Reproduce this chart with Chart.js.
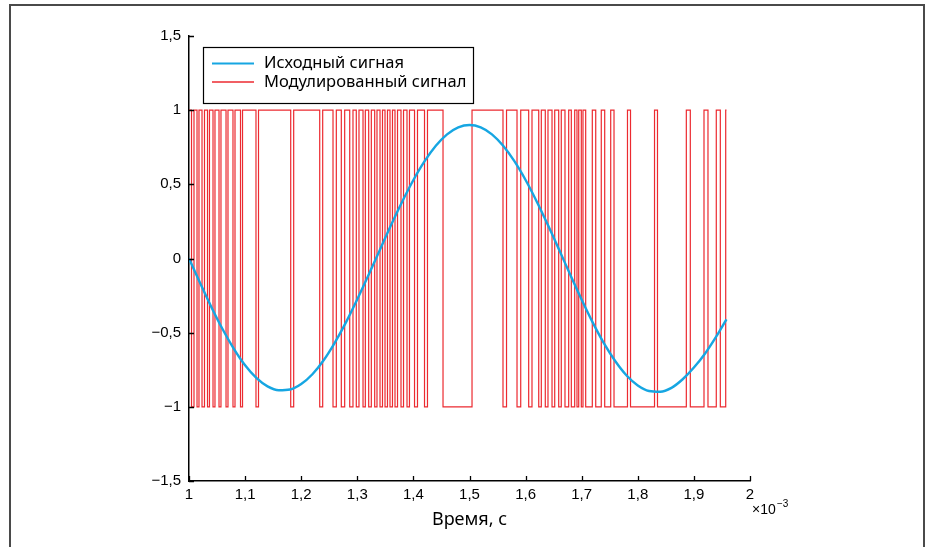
<!DOCTYPE html>
<html>
<head>
<meta charset="utf-8">
<script src="https://cdn.jsdelivr.net/npm/chart.js@4/dist/chart.umd.min.js"></script>
<style>
  body { margin: 0; background: #fff; }
  #wrap { position: relative; width: 934px; height: 547px; overflow: hidden; }
  #frame { position: absolute; left: 9px; top: 4px; width: 916px; height: 600px; border: 2px solid #4a4a4a; box-sizing: border-box; pointer-events: none; }
  canvas { position: absolute; left: 0; top: 0; }
</style>
</head>
<body>
<div id="wrap">
  <canvas id="myChart" width="934" height="547"></canvas>
  <div id="frame"></div>
</div>
<script>
// время (в единицах 10^-3 с) и значения исходного сигнала
var sineTime = [1.00, 1.02, 1.04, 1.06, 1.08, 1.10, 1.12, 1.14, 1.16, 1.18,
                1.20, 1.22, 1.24, 1.26, 1.28, 1.30, 1.32, 1.34, 1.36, 1.38,
                1.40, 1.42, 1.44, 1.46, 1.48, 1.50, 1.52, 1.54, 1.56, 1.58,
                1.60, 1.62, 1.64, 1.66, 1.68, 1.70, 1.72, 1.74, 1.76, 1.78,
                1.80, 1.82, 1.84, 1.86, 1.88, 1.90, 1.92, 1.94, 1.958];
var sineValues = [0, -0.167, -0.328, -0.477, -0.609, -0.720, -0.805, -0.862, -0.888, -0.883,
                  -0.846, -0.780, -0.686, -0.567, -0.429, -0.275, -0.112, 0.056, 0.224, 0.383,
                  0.529, 0.656, 0.760, 0.837, 0.884, 0.900, 0.884, 0.837, 0.760, 0.656,
                  0.529, 0.383, 0.224, 0.057, -0.113, -0.278, -0.434, -0.574, -0.693, -0.789,
                  -0.856, -0.893, -0.898, -0.872, -0.814, -0.735, -0.640, -0.525, -0.410];

// моменты переключения модулированного сигнала и уровень после переключения
var pwmTime = [1.000, 1.0045, 1.0089, 1.0143, 1.0178, 1.0232, 1.0276, 1.0330, 1.0365, 1.0428,
               1.0463, 1.0535, 1.0570, 1.0660, 1.0695, 1.0784, 1.0820, 1.0918, 1.0954, 1.1194,
               1.1239, 1.1813, 1.1866, 1.2330, 1.2383, 1.2567, 1.2626, 1.2715, 1.2775, 1.2865,
               1.2923, 1.2982, 1.3030, 1.3102, 1.3143, 1.3203, 1.3250, 1.3310, 1.3351, 1.3405,
               1.3449, 1.3494, 1.3538, 1.3583, 1.3627, 1.3672, 1.3717, 1.3779, 1.3824, 1.3886,
               1.3930, 1.4020, 1.4073, 1.4198, 1.4251, 1.4528, 1.5045, 1.5597, 1.5660, 1.5847,
               1.5913, 1.6055, 1.6114, 1.6234, 1.6280, 1.6351, 1.6399, 1.6471, 1.6519, 1.6590,
               1.6636, 1.6702, 1.6768, 1.6815, 1.6875, 1.6916, 1.6947, 1.6993, 1.7023, 1.7071,
               1.7189, 1.7250, 1.7349, 1.7410, 1.7517, 1.7576, 1.7816, 1.7870, 1.8298, 1.8351,
               1.8865, 1.8936, 1.9180, 1.9251, 1.9399, 1.9471, 1.9567, 1.9581];
var pwmLevel = [1, -1, 1, -1, 1, -1, 1, -1, 1, -1,
                1, -1, 1, -1, 1, -1, 1, -1, 1, -1,
                1, -1, 1, -1, 1, -1, 1, -1, 1, -1,
                1, -1, 1, -1, 1, -1, 1, -1, 1, -1,
                1, -1, 1, -1, 1, -1, 1, -1, 1, -1,
                1, -1, 1, -1, 1, -1, 1, -1, 1, -1,
                1, -1, 1, -1, 1, -1, 1, -1, 1, -1,
                1, -1, 1, -1, 1, -1, 1, -1, 1, -1,
                1, -1, 1, -1, 1, -1, 1, -1, 1, -1,
                1, -1, 1, -1, 1, -1, 1, 1];

var seriesNames = ['Исходный сигная', 'Модулированный сигнал'];

var xTickValues = [1, 1.1, 1.2, 1.3, 1.4, 1.5, 1.6, 1.7, 1.8, 1.9, 2];
var xTickLabels = ['1', '1,1', '1,2', '1,3', '1,4', '1,5', '1,6', '1,7', '1,8', '1,9', '2'];
var yTickValues = [-1.5, -1, -0.5, 0, 0.5, 1, 1.5];
var yTickLabels = ['\u22121,5', '\u22121', '\u22120,5', '0', '0,5', '1', '1,5'];

var xTitle = 'Время, с';

var tickFont = { family: '"Liberation Sans", Arial, sans-serif', size: 15 };
var textFont = '"Noto Sans", sans-serif';

// внутренние засечки, легенда и подписи
var extrasPlugin = {
    id: 'extras',
    afterDatasetsDraw: function(chart) {
        var ctx = chart.ctx;
        var xs = chart.scales.x;
        var ys = chart.scales.y;
        var area = chart.chartArea;
        ctx.save();
        ctx.strokeStyle = '#000';
        ctx.lineWidth = 1.3;
        ctx.beginPath();
        xTickValues.forEach(function(v) {
            var px = Math.round(xs.getPixelForValue(v)) + 0.5;
            ctx.moveTo(px, area.bottom);
            ctx.lineTo(px, area.bottom - 5);
        });
        yTickValues.forEach(function(v) {
            var py = Math.round(ys.getPixelForValue(v)) + 0.5;
            ctx.moveTo(area.left, py);
            ctx.lineTo(area.left + 5, py);
        });
        ctx.stroke();

        // легенда
        ctx.fillStyle = '#fff';
        ctx.fillRect(203.5, 47.5, 270, 56);
        ctx.strokeStyle = '#000';
        ctx.lineWidth = 1.2;
        ctx.strokeRect(203.5, 47.5, 270, 56);
        ctx.font = '16.5px ' + textFont;
        ctx.textBaseline = 'middle';
        ctx.textAlign = 'left';
        chart.data.datasets.forEach(function(ds, i) {
            var y = 63.5 + i * 18.5;
            ctx.strokeStyle = ds.borderColor;
            ctx.lineWidth = i === 0 ? 2.2 : 1.5;
            ctx.beginPath();
            ctx.moveTo(212, y);
            ctx.lineTo(254, y);
            ctx.stroke();
            ctx.fillStyle = '#000';
            ctx.fillText(ds.label, 264, y);
        });

        // подпись оси и множитель
        ctx.textAlign = 'center';
        ctx.font = '18px ' + textFont;
        ctx.fillText(xTitle, (area.left + area.right) / 2, 520);
        ctx.textAlign = 'left';
        ctx.textBaseline = 'alphabetic';
        ctx.font = '14px "Liberation Sans", Arial, sans-serif';
        ctx.fillText('\u00d710', 752, 514);
        ctx.font = '10px "Liberation Sans", Arial, sans-serif';
        ctx.fillText('\u22123', 777, 507);
        ctx.restore();
    }
};

function initialize() {
    var ctx = document.getElementById('myChart').getContext('2d');

    var sineData = sineTime.map(function(t, i) { return { x: t, y: sineValues[i] }; });
    var pwmData = pwmTime.map(function(t, i) { return { x: t, y: pwmLevel[i] }; });

    window.myLineChart = new Chart(ctx, {
        type: 'line',
        data: {
            datasets: [{
                label: seriesNames[0],
                data: sineData,
                borderColor: '#16a6e2',
                borderWidth: 2.4,
                pointRadius: 0,
                cubicInterpolationMode: 'monotone',
                fill: false
            }, {
                label: seriesNames[1],
                data: pwmData,
                borderColor: '#ec2a30',
                borderWidth: 1.2,
                pointRadius: 0,
                stepped: 'before',
                fill: false
            }]
        },
        options: {
            responsive: false,
            animation: false,
            devicePixelRatio: 1,
            layout: { padding: { top: 36, left: 0, right: 184, bottom: 0 } },
            plugins: {
                legend: { display: false },
                tooltip: { enabled: false }
            },
            scales: {
                x: {
                    type: 'linear',
                    position: 'bottom',
                    min: 1,
                    max: 2,
                    grid: { display: false, drawTicks: false },
                    border: { display: true, color: '#000', width: 1.5 },
                    afterBuildTicks: function(scale) {
                        scale.ticks = xTickValues.map(function(v) { return { value: v }; });
                    },
                    afterFit: function(scale) { scale.height = 66; },
                    ticks: {
                        color: '#000',
                        font: tickFont,
                        padding: 5,
                        maxRotation: 0,
                        autoSkip: false,
                        callback: function(value, index) { return xTickLabels[index]; }
                    }
                },
                y: {
                    type: 'linear',
                    min: -1.5,
                    max: 1.5,
                    grid: { display: false, drawTicks: false },
                    border: { display: true, color: '#000', width: 1.5 },
                    afterBuildTicks: function(scale) {
                        scale.ticks = yTickValues.map(function(v) { return { value: v }; });
                    },
                    afterFit: function(scale) { scale.width = 189; },
                    ticks: {
                        color: '#000',
                        font: tickFont,
                        padding: 8,
                        callback: function(value, index) { return yTickLabels[index]; }
                    }
                }
            }
        },
        plugins: [extrasPlugin]
    });
}
document.addEventListener('DOMContentLoaded', initialize);
</script>
</body>
</html>
